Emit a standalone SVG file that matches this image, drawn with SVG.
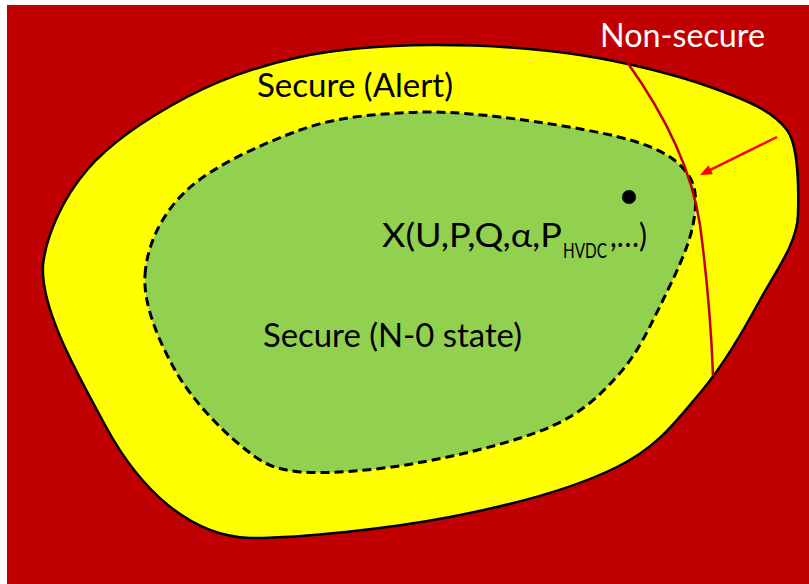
<svg xmlns="http://www.w3.org/2000/svg" width="809" height="584" viewBox="0 0 809 584">
  <style>
    .lbl { font-family: Lato, "Open Sans", "Liberation Sans", sans-serif; font-size: 32px; fill: #000; }
    .white { fill: #FFFFFF; }
    .outer { fill: #FFFF00; stroke: #000; stroke-width: 2.5; }
    .inner { fill: #92D050; stroke: #000; stroke-width: 3; stroke-dasharray: 9 5; }
    .limit { fill: none; stroke: #C00000; stroke-width: 2.5; }
    .arrow { fill: none; stroke: #FF0000; stroke-width: 2.5; }
  </style>
  <defs>
    <marker id="head" viewBox="0 0 12 10" refX="9" refY="5" markerWidth="12" markerHeight="10" markerUnits="userSpaceOnUse" orient="auto">
      <path d="M0,0 L12,5 L0,10 z" fill="#FF0000"/>
    </marker>
  </defs>

  <!-- canvas -->
  <rect x="0" y="0" width="809" height="584" fill="#FFFFFF"/>
  <rect id="non-secure-area" x="7" y="5" width="802" height="579" fill="#C00000"/>

  <!-- alert region -->
  <g id="alert-region">
    <path class="outer" d="M43,265 C46.3,235 63,198 87,170 C111,142 151.5,115.8 187,97 C222.5,78.2 259.5,65.7 300,57 C340.5,48.3 383.3,45.3 430,45 C476.7,44.7 532.8,47.8 580,55 C627.2,62.2 678.5,75.5 713,88 C747.5,100.5 773,111.3 787,130 C798,145 799,180 798,215 C797,243.3 776.3,270.3 760,300 C743.7,329.7 723.8,365.2 700,393 C676.2,420.8 658.7,446.3 617,467 C575.3,487.7 511.2,505.2 450,517 C388.8,528.8 300,538 250,538 C190,536 140,490 105,425 C80,378 40,310 43,265 Z"/>
  </g>

  <!-- normal operating region -->
  <g id="normal-region">
    <path class="inner" d="M145,275 C147,245 161.2,214.2 187,190 C212.8,165.8 264.5,142.8 300,130 C335.5,117.2 366.7,115.2 400,113 C433.3,110.8 461.7,112.5 500,117 C538.3,121.5 598.8,130.7 630,140 C661.2,149.3 676.5,158.8 687,173 C697.5,187.2 697,203.8 693,225 C689,246.2 675.2,275.3 663,300 C650.8,324.7 638.8,351.8 620,373 C601.2,394.2 583.8,412 550,427 C516.2,442 458.7,455.5 417,463 C375.3,470.5 329.5,474 300,472 C270.5,469 260.8,462 240,445 C219.2,428 190.8,398.3 175,370 C159.2,341.7 143,305 145,275 Z"/>
  </g>

  <!-- security limit and approach arrow -->
  <g id="connectors">
    <path id="security-limit" class="limit" d="M627,62 C665,115 692,170 700,225 C706,270 711,320 713,376"/>
    <line id="approach-arrow" class="arrow" x1="777" y1="137" x2="702.7" y2="173.7" marker-end="url(#head)"/>
  </g>
  <g id="operating-point">
    <circle cx="629" cy="197" r="7" fill="#000"/>
  </g>

  <!-- labels -->
  <g id="labels">
    <text class="lbl white" x="600" y="47" textLength="165" lengthAdjust="spacingAndGlyphs">Non-secure</text>
    <text class="lbl" x="257" y="97" textLength="196" lengthAdjust="spacingAndGlyphs">Secure (Alert)</text>
    <text class="lbl" x="263" y="347" textLength="259" lengthAdjust="spacingAndGlyphs">Secure (N-0 state)</text>
    <text class="lbl"><tspan x="382" y="247" textLength="180" lengthAdjust="spacingAndGlyphs">X(U,P,Q,α,P</tspan><tspan x="563" y="258" font-size="21" textLength="44" lengthAdjust="spacingAndGlyphs">HVDC</tspan><tspan x="610" y="247" textLength="37" lengthAdjust="spacingAndGlyphs">,…)</tspan></text>
  </g>
</svg>
